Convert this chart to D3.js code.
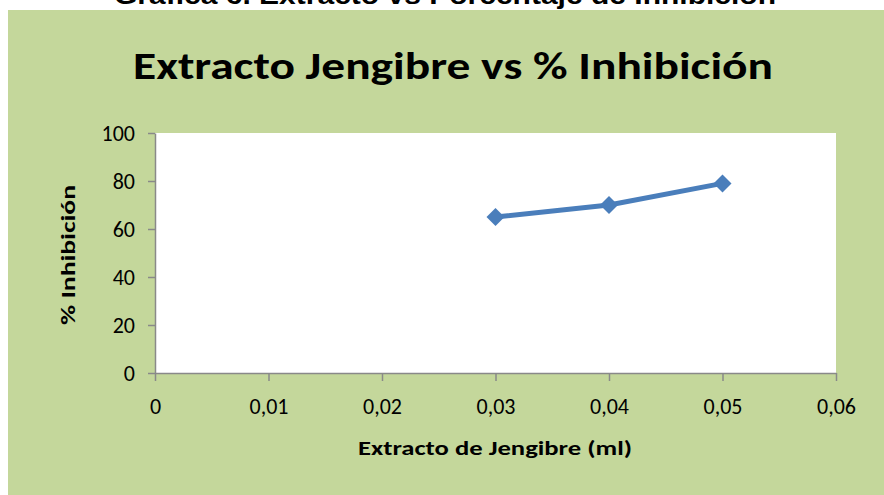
<!DOCTYPE html>
<html><head><meta charset="utf-8">
<script src="https://cdn.jsdelivr.net/npm/d3@7/dist/d3.min.js"></script>
<style>
html,body{margin:0;padding:0;background:#fff;}
svg{display:block;}
</style></head>
<body>
<svg id="chart" width="884" height="495"></svg>
<script>
const xValues = [0.03, 0.04, 0.05];
const inhibicion = [65, 70, 79];
const xTicks = [0, 0.01, 0.02, 0.03, 0.04, 0.05, 0.06];
const yTicks = [0, 20, 40, 60, 80, 100];
const outerTitle = "Gráfica 6. Extracto vs Porcentaje de Inhibición";
const chartTitle = "Extracto Jengibre vs % Inhibición";
const xTitle = "Extracto de Jengibre (ml)";
const yTitle = "% Inhibición";

const svg = d3.select("#chart");
const font = "Carlito, Lato, 'Open Sans', sans-serif";

// outer caption (clipped at top, as in the reference)
svg.append("text").attr("x", 445).attr("y", 4).attr("text-anchor", "middle")
  .attr("font-family", "Arial, 'Liberation Sans', sans-serif").attr("font-weight", "bold")
  .attr("font-size", 25).attr("textLength", 662).attr("lengthAdjust", "spacingAndGlyphs")
  .attr("fill", "#000").text(outerTitle);

// chart area background
svg.append("rect").attr("x", 8).attr("y", 10).attr("width", 876).attr("height", 485).attr("fill", "#C4D79B");

const L = 155, R = 836, T = 133, B = 373;
const x = d3.scaleLinear().domain([0, 0.06]).range([L, R]);
const y = d3.scaleLinear().domain([0, 100]).range([B, T]);

svg.append("rect").attr("x", L).attr("y", T).attr("width", R - L).attr("height", B - T).attr("fill", "#fff");

// title
svg.append("text").attr("x", 453).attr("y", 79).attr("text-anchor", "middle")
  .attr("font-family", font).attr("font-weight", "bold").attr("font-size", 39)
  .attr("textLength", 640).attr("lengthAdjust", "spacingAndGlyphs")
  .attr("fill", "#000").text(chartTitle);

const fmt = d => d === 0 ? "0" : d3.format(".2f")(d).replace(".", ",");

const xAxis = svg.append("g").attr("transform", `translate(0,${B})`)
  .call(d3.axisBottom(x).tickValues(xTicks).tickFormat(fmt).tickSizeInner(8).tickSizeOuter(0).tickPadding(17));
const yAxis = svg.append("g").attr("transform", `translate(${L},0)`)
  .call(d3.axisLeft(y).tickValues(yTicks).tickSizeInner(7).tickSizeOuter(0).tickPadding(13));

[xAxis, yAxis].forEach(g => {
  g.select(".domain").attr("stroke", "#898989").attr("stroke-width", 1.5);
  g.selectAll(".tick line").attr("stroke", "#898989").attr("stroke-width", 1.5);
  g.selectAll(".tick text").attr("font-family", font).attr("font-size", 22).attr("fill", "#000");
});
xAxis.selectAll(".tick text").attr("dy", "0.71em");

// axis titles
svg.append("text").attr("x", 495).attr("y", 455).attr("text-anchor", "middle")
  .attr("font-family", font).attr("font-weight", "bold").attr("font-size", 21)
  .attr("textLength", 274).attr("lengthAdjust", "spacingAndGlyphs")
  .attr("fill", "#000").text(xTitle);
svg.append("text").attr("transform", "translate(75,255) rotate(-90)").attr("text-anchor", "middle")
  .attr("font-family", font).attr("font-weight", "bold").attr("font-size", 21)
  .attr("textLength", 140).attr("lengthAdjust", "spacingAndGlyphs")
  .attr("fill", "#000").text(yTitle);

// series
const data = xValues.map((v, i) => ({x: v, y: inhibicion[i]}));
svg.append("path").datum(data)
  .attr("d", d3.line().x(d => x(d.x)).y(d => y(d.y)))
  .attr("fill", "none").attr("stroke", "#4A7EBB").attr("stroke-width", 5).attr("stroke-linejoin", "round");
svg.selectAll("path.marker").data(data).join("path").attr("class", "marker")
  .attr("transform", d => `translate(${x(d.x)},${y(d.y)})`)
  .attr("d", "M0,-9L9,0L0,9L-9,0Z")
  .attr("fill", "#4A7EBB");
</script>
</body></html>
